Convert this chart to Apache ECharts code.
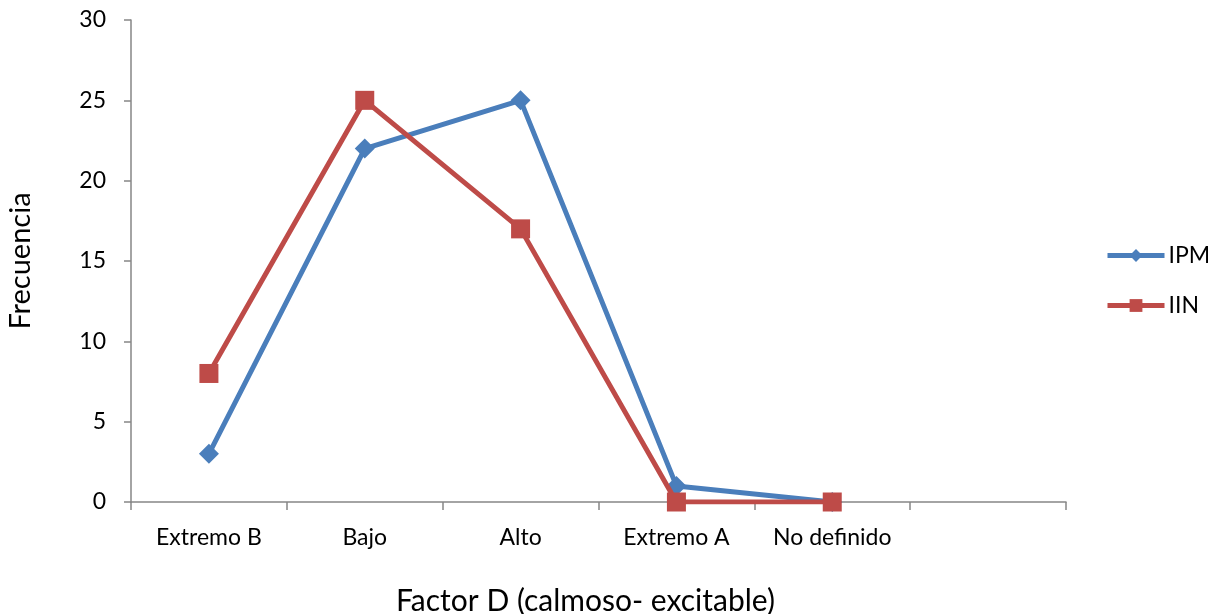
<!DOCTYPE html>
<html><head><meta charset="utf-8">
<script src="https://cdn.jsdelivr.net/npm/echarts@6/dist/echarts.min.js"></script>
<style>html,body{margin:0;padding:0;background:#fff}#c{width:1216px;height:614px}</style>
</head><body><div id="c"></div>
<script>
const categories = ['Extremo B', 'Bajo', 'Alto', 'Extremo A', 'No definido', ''];
const ipm = [3, 22, 25, 1, 0];
const iin = [8, 25, 17, 0, 0];
const yTicks = [0, 5, 10, 15, 20, 25, 30];

const chart = echarts.init(document.getElementById('c'));
const font = 'Lato, "Open Sans", sans-serif';
chart.setOption({
  animation: false,
  textStyle: { fontFamily: font },
  grid: { left: 131, right: 150, top: 20, bottom: 112, containLabel: false, outerBoundsMode: 'none' },
  legend: {
    orient: 'vertical', left: 1100, top: 239, itemWidth: 57, itemHeight: 16, itemGap: 27,
    textStyle: { fontSize: 23, color: '#000', fontFamily: font, padding: [0,0,0,-1] },
    lineStyle: { width: 5 },
    data: ['IPM', 'IIN']
  },
  xAxis: {
    type: 'category', data: categories, boundaryGap: true,
    name: 'Factor D (calmoso- excitable)', nameLocation: 'middle', nameGap: 84,
    nameTextStyle: { fontSize: 30, color: '#000', fontFamily: font, padding: [0, 26, 0, 0] },
    axisLine: { lineStyle: { color: '#868686', width: 1.5 } },
    axisTick: { show: true, length: 8, alignWithLabel: false, lineStyle: { color: '#868686', width: 1.5 } },
    axisLabel: { fontSize: 23, color: '#000', margin: 24, interval: 0, fontFamily: font }
  },
  yAxis: {
    type: 'value', min: 0, max: 30, interval: 5,
    name: 'Frecuencia', nameLocation: 'middle', nameGap: 96, nameRotate: 90,
    nameTextStyle: { fontSize: 29, color: '#000', fontFamily: font },
    axisLine: { show: true, lineStyle: { color: '#868686', width: 1.5 } },
    axisTick: { show: true, length: 7, inside: false, lineStyle: { color: '#868686', width: 1.5 } },
    splitLine: { show: false },
    axisLabel: { fontSize: 23, color: '#000', margin: 25, fontFamily: font,
      formatter: v => yTicks.includes(v) ? String(v) : '' }
  },
  series: [
    { name: 'IPM', type: 'line', data: ipm, symbol: 'diamond', symbolSize: 20,
      lineStyle: { color: '#4A7EBB', width: 5 }, itemStyle: { color: '#4A7EBB' }, z: 2 },
    { name: 'IIN', type: 'line', data: iin, symbol: 'rect', symbolSize: 19,
      lineStyle: { color: '#BE4B48', width: 5 }, itemStyle: { color: '#BE4B48' }, z: 3 }
  ]
});
</script></body></html>
